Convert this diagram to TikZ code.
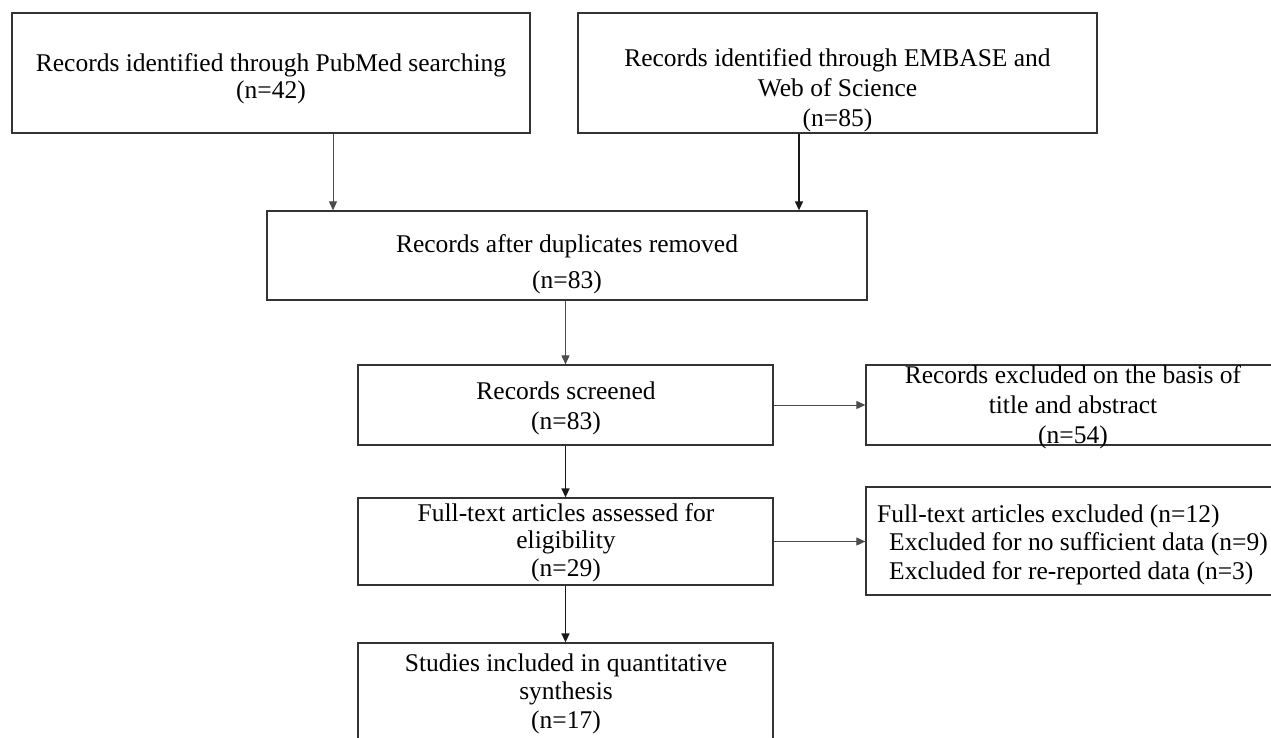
\documentclass[tikz,border=0pt]{standalone}
\usepackage{fontspec}
\setmainfont{Liberation Serif}
\usetikzlibrary{arrows.meta}
\begin{document}
\begin{tikzpicture}[x=1pt,y=-1pt,
  box/.style={draw=black!80, line width=1.3pt, inner sep=0pt, rectangle},
  txt/.style={inner sep=0pt, align=center, anchor=base, font=\fontsize{25.5}{30}\selectfont},
  txtl/.style={inner sep=0pt, align=left, anchor=base west, font=\fontsize{25.5}{28.5}\selectfont},
  arr/.style={-{Triangle[length=9pt,width=8pt]}, line width=1pt, draw=black!70},
  arrd/.style={-{Triangle[length=9pt,width=8pt]}, line width=1.4pt, draw=black!90}]
\useasboundingbox (0,0) rectangle (1271,738);
\clip (0,0) rectangle (1271,738);
\fill[white] (0,0) rectangle (1271,738);
% boxes
\node[box, minimum width=518pt, minimum height=120pt] (b1) at (271,73) {};
\node[box, minimum width=519pt, minimum height=120pt] (b2) at (837.5,73) {};
\node[box, minimum width=600pt, minimum height=89pt] (b3) at (567,255.5) {};
\node[box, minimum width=415pt, minimum height=80pt] (b4) at (565.5,405) {};
\node[box, minimum width=414pt, minimum height=80pt] (b5) at (1073,405) {};
\node[box, minimum width=415pt, minimum height=87pt] (b6) at (565.5,541.5) {};
\node[box, minimum width=414pt, minimum height=108pt] (b7) at (1073,541) {};
\node[box, minimum width=415pt, minimum height=122pt] (b8) at (565.5,704) {};
% texts (anchor = baseline of the last line)
\node[txt] (t1) at (271,99) {Records identified through PubMed searching\\[-3pt](n=42)};
\node[txt] (t2) at (837.5,127) {Records identified through EMBASE and\\Web of Science\\(n=85)};
\node[txt] (t3) at (567,288) {Records after duplicates removed\\[6pt](n=83)};
\node[txt] (t4) at (566,429) {Records screened\\(n=83)};
\node[txt] (t5) at (1073,443) {Records excluded on the basis of\\title and abstract\\(n=54)};
\node[txt] (t6) at (566,576) {Full-text articles assessed for\\[-2.5pt]eligibility\\[-2.5pt](n=29)};
\node[txtl] (t7) at (877,579) {Full-text articles excluded (n=12)\\\hspace*{12pt}Excluded for no sufficient data (n=9)\\\hspace*{12pt}Excluded for re-reported data (n=3)};
\node[txt] (t8) at (566,728) {Studies included in quantitative\\[-1.5pt]synthesis\\[-1.5pt](n=17)};
% connector anchors
\coordinate (c1) at (333,0);
\coordinate (c2) at (799,0);
\draw[arr] (b1.south -| c1) -- (b3.north -| c1);
\draw[arrd] (b2.south -| c2) -- (b3.north -| c2);
\draw[arr] (b3.south -| b4.north) -- (b4.north);
\draw[arr] (b4.east) -- (b5.west);
\draw[arrd] (b4.south) -- (b6.north);
\draw[arr] (b6.east) -- (b7.west |- b6.east);
\draw[arrd] (b6.south) -- (b8.north);
\end{tikzpicture}
\end{document}
